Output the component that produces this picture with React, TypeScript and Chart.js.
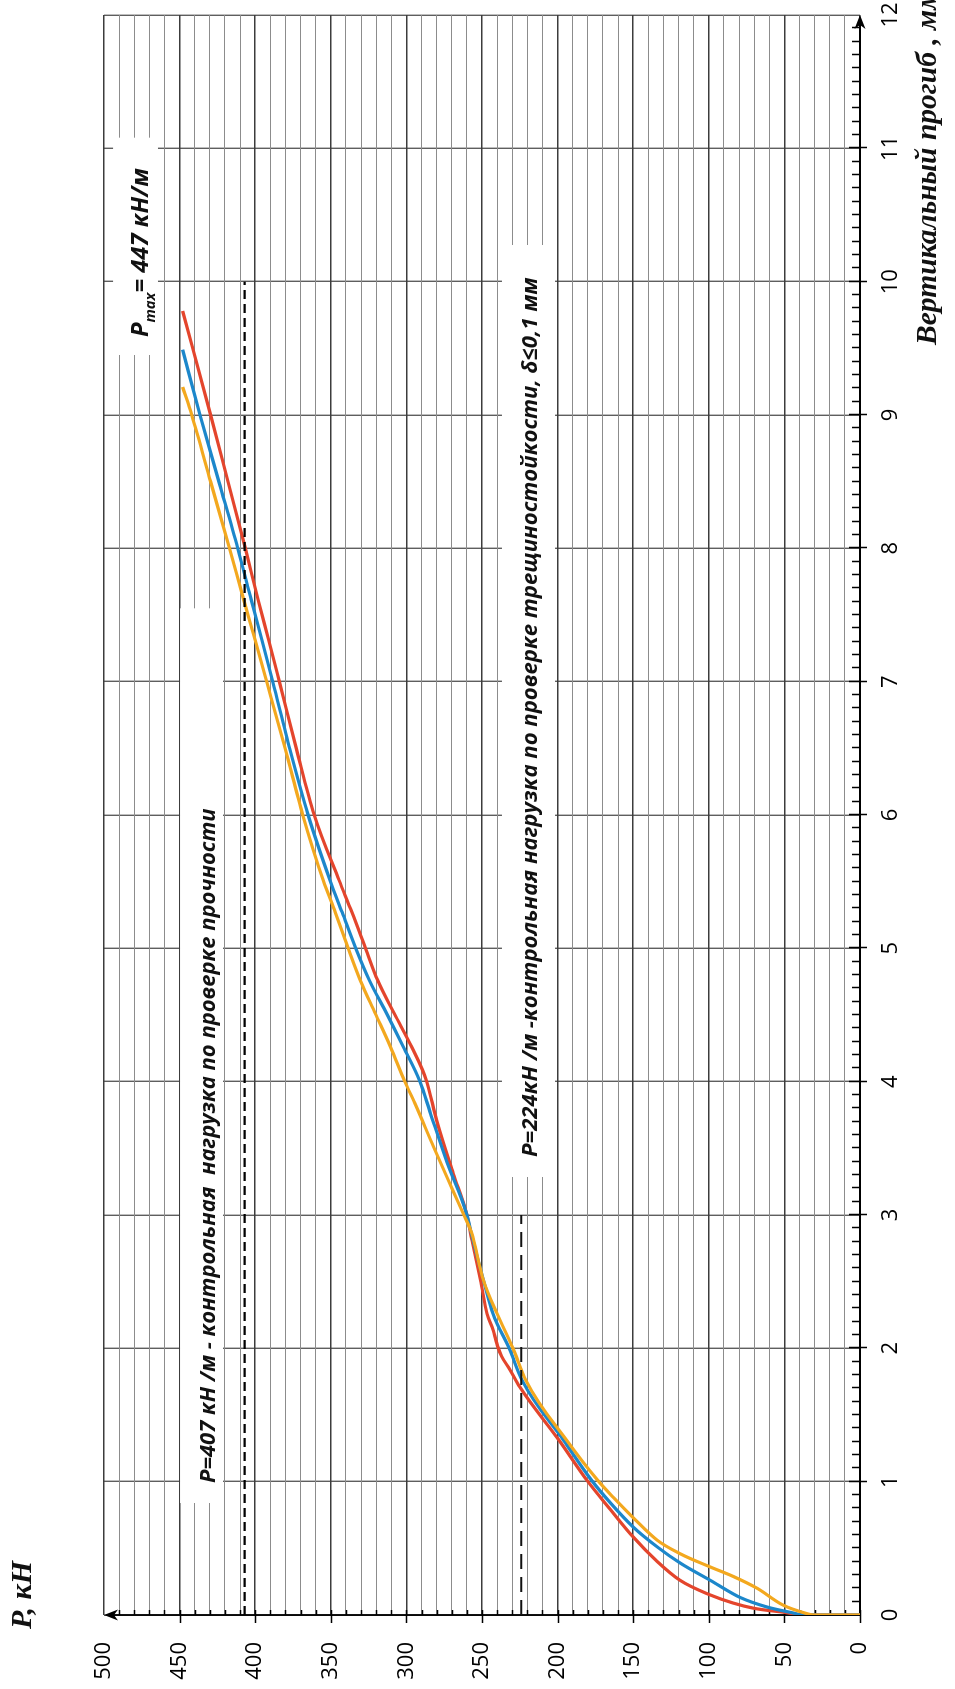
import React, { useEffect, useRef } from 'react';
import { Chart, registerables } from 'chart.js';

Chart.register(...registerables);

// ---- axis ranges / ticks ----
const DEFLECTION_MIN = 0;
const DEFLECTION_MAX = 12;
const DEFLECTION_STEP = 1;
const LOAD_MIN = 0;
const LOAD_MAX = 500;
const LOAD_STEP = 10;
const LOAD_LABEL_STEP = 50;

// ---- series: vertical deflection (mm) vs load P (kN) ----
const redDeflection = [0, 0, 0.02, 0.05, 0.09, 0.15, 0.26, 0.4, 0.585, 0.79, 1.01, 1.31, 1.71, 1.84, 1.94, 2.01, 2.14, 2.26, 2.51, 2.81, 3.0, 3.31, 3.71, 4.0, 4.26, 4.51, 4.76, 5.0, 5.27, 5.51, 6.0, 6.49, 7.0, 7.31, 7.61, 8.0, 8.5, 9.0, 9.78];
const redLoad = [0, 38, 50, 70, 84, 99, 119, 134, 150, 165, 180.6, 199, 225, 231.5, 237, 239.5, 242.7, 246.7, 251, 256.6, 260, 269, 280, 286.5, 296.5, 308, 319, 327, 336, 344.5, 361, 372.6, 384, 391, 398, 406.5, 418, 429.5, 448];

const blueDeflection = [0, 0, 0.015, 0.06, 0.13, 0.26, 0.39, 0.51, 0.66, 0.84, 1.01, 1.31, 1.76, 2.0, 2.26, 2.51, 2.81, 3.0, 3.39, 3.76, 4.0, 4.26, 4.51, 4.76, 5.0, 5.27, 5.51, 6.0, 6.49, 7.0, 7.31, 7.61, 8.0, 8.5, 9.0, 9.49];
const blueLoad = [0, 38, 44, 61.5, 79, 99, 119, 134, 150, 165, 177.5, 196, 223.5, 232, 242.7, 249, 256, 260, 273, 284, 291, 302, 313, 324.5, 333.5, 342.5, 350.5, 365, 377, 388.4, 395.5, 402.5, 411.5, 424, 436.5, 448];

const orangeDeflection = [0, 0, 0.01, 0.075, 0.2, 0.29, 0.36, 0.46, 0.56, 0.73, 0.88, 1.01, 1.31, 1.76, 2.0, 2.26, 2.51, 2.87, 3.0, 3.19, 3.51, 3.84, 4.0, 4.26, 4.51, 4.76, 5.0, 5.27, 5.51, 6.0, 6.49, 7.0, 7.31, 7.61, 8.0, 8.5, 9.0, 9.21];
const orangeLoad = [0, 31, 35, 51, 68, 84, 99, 119, 134, 150, 163, 173.5, 194, 221, 229.5, 240, 249, 257, 262, 269.5, 282, 294.5, 301, 310.5, 320.5, 330.5, 338.5, 347, 355, 368.5, 380, 392.4, 400, 407.5, 417, 429.5, 442, 448];

// ---- control load lines ----
const strengthLoad = 407;
const strengthDeflectionRange = [0, 10];
const crackLoad = 224;
const crackDeflectionRange = [0, 3];

// ---- texts ----
const STRENGTH_TEXT = 'P=407 кН /м - контрольная  нагрузка по проверке прочности';
const CRACK_TEXT = 'P=224кН /м -контрольная нагрузка по проверке трещиностойкости, δ≤0,1 мм';
const PMAX_PARTS = [
  { t: 'P', sub: false },
  { t: 'max', sub: true },
  { t: '= 447 кН/м', sub: false },
];
const LOAD_TITLE = 'P, кН';
const DEFLECTION_TITLE = 'Вертикальный прогиб , мм';

// annotation layout (in data coordinates: d = deflection, p = load)
const ANNOTATIONS = [
  { parts: [{ t: STRENGTH_TEXT, sub: false }], box: [0.84, 7.55, 449.7, 421.3], text: [0.99, 6.05], baseline: 426.6 },
  { parts: [{ t: CRACK_TEXT, sub: false }], box: [3.285, 10.275, 236.8, 201.7], text: [3.435, 10.035], baseline: 213.6 },
  { parts: PMAX_PARTS, box: [9.45, 11.08, 494, 464.3], text: [9.585, 10.85], baseline: 470.9 },
];

const toPoints = (d: number[], p: number[]) => d.map((v, i) => ({ x: v, y: p[i] }));

const ANN_FONT = (s: number) => `italic bold ${s.toFixed(2)}px "Open Sans"`;
const TITLE_FONT = (s: number) => `italic bold ${s.toFixed(2)}px "Liberation Serif"`;

function drawParts(ctx: CanvasRenderingContext2D, parts: { t: string; sub: boolean }[], x: number, width: number, baseline: number) {
  const base = 100;
  const subScale = 0.62;
  let total = 0;
  for (const p of parts) {
    ctx.font = ANN_FONT(p.sub ? base * subScale : base);
    total += ctx.measureText(p.t).width;
  }
  const size = (base * width) / total;
  let cx = x;
  ctx.fillStyle = '#111';
  ctx.textAlign = 'left';
  ctx.textBaseline = 'alphabetic';
  for (const p of parts) {
    const s = p.sub ? size * subScale : size;
    ctx.font = ANN_FONT(s);
    ctx.fillText(p.t, cx, baseline + (p.sub ? size * 0.3 : 0));
    cx += ctx.measureText(p.t).width;
  }
}

const decorPlugin = {
  id: 'decor',
  beforeDatasetsDraw(chart: any) {
    const { ctx, scales } = chart;
    const x = scales.x;
    const y = scales.y;
    ctx.save();
    // white text boxes
    for (const a of ANNOTATIONS) {
      const l = x.getPixelForValue(a.box[0]);
      const r = x.getPixelForValue(a.box[1]);
      const t = y.getPixelForValue(a.box[2]);
      const b = y.getPixelForValue(a.box[3]);
      ctx.fillStyle = '#ffffff';
      ctx.fillRect(l, t, r - l, b - t);
      const sx = x.getPixelForValue(a.text[0]);
      const ex = x.getPixelForValue(a.text[1]);
      drawParts(ctx, a.parts, sx, ex - sx, y.getPixelForValue(a.baseline));
    }

    // axes
    const x0 = x.getPixelForValue(DEFLECTION_MIN);
    const xEnd = x.getPixelForValue(DEFLECTION_MAX);
    const y0 = y.getPixelForValue(LOAD_MIN);
    const yEnd = y.getPixelForValue(LOAD_MAX);
    ctx.strokeStyle = '#000';
    ctx.fillStyle = '#000';
    ctx.lineWidth = 1.8;
    ctx.beginPath();
    ctx.moveTo(x0, y0 + 1);
    ctx.lineTo(x0, yEnd + 6);
    ctx.moveTo(x0 - 1, y0);
    ctx.lineTo(xEnd - 6, y0);
    ctx.stroke();
    // arrow heads
    ctx.beginPath();
    ctx.moveTo(x0, yEnd);
    ctx.lineTo(x0 - 5.5, yEnd + 14);
    ctx.lineTo(x0, yEnd + 10);
    ctx.lineTo(x0 + 5.5, yEnd + 14);
    ctx.closePath();
    ctx.fill();
    ctx.beginPath();
    ctx.moveTo(xEnd, y0);
    ctx.lineTo(xEnd - 14, y0 - 5.5);
    ctx.lineTo(xEnd - 10, y0);
    ctx.lineTo(xEnd - 14, y0 + 5.5);
    ctx.closePath();
    ctx.fill();

    // ticks on load axis
    ctx.lineWidth = 1.5;
    ctx.beginPath();
    for (let v = LOAD_MIN; v < LOAD_MAX; v += LOAD_STEP) {
      const py = Math.round(y.getPixelForValue(v)) + 0.5;
      if (v % LOAD_LABEL_STEP === 0) {
        ctx.moveTo(x0 - 8, py);
        ctx.lineTo(x0 + 5, py);
      } else {
        ctx.moveTo(x0, py);
        ctx.lineTo(x0 + 5, py);
      }
    }
    // ticks on deflection axis (major every 1, minor every 0.1)
    for (let i = 1; i < (DEFLECTION_MAX - DEFLECTION_MIN) * 10; i++) {
      const px = Math.round(x.getPixelForValue(DEFLECTION_MIN + i / 10)) + 0.5;
      if (i % 10 === 0) {
        ctx.moveTo(px, y0 - 11);
        ctx.lineTo(px, y0 + 7);
      } else {
        ctx.moveTo(px, y0 - 8);
        ctx.lineTo(px, y0);
      }
    }
    ctx.stroke();
    ctx.restore();
  },
  afterDraw(chart: any) {
    const { ctx } = chart;
    ctx.save();
    ctx.fillStyle = '#111';
    ctx.textAlign = 'left';
    ctx.textBaseline = 'alphabetic';
    // load title
    ctx.font = TITLE_FONT(100);
    const w1 = ctx.measureText(LOAD_TITLE).width;
    ctx.font = TITLE_FONT((100 * 68) / w1);
    ctx.fillText(LOAD_TITLE, 60, 31);
    // deflection title
    ctx.font = TITLE_FONT(100);
    const w2 = ctx.measureText('Вертикальный прогиб').width;
    ctx.font = TITLE_FONT((100 * 293) / w2);
    ctx.fillText(DEFLECTION_TITLE, 1344, 936);
    ctx.restore();
  },
};

export default function App() {
  const ref = useRef<HTMLCanvasElement>(null);
  useEffect(() => {
    const canvas = ref.current;
    if (!canvas) return;
    const lineBase = {
      pointRadius: 0,
      pointHoverRadius: 0,
      fill: false,
      borderWidth: 3.2,
      cubicInterpolationMode: 'monotone' as const,
    };
    const chart = new Chart(canvas, {
      type: 'line',
      data: {
        datasets: [
          {
            label: 'P=407',
            data: strengthDeflectionRange.map((d) => ({ x: d, y: strengthLoad })),
            borderColor: '#000',
            borderWidth: 2.4,
            borderDash: [9, 5],
            pointRadius: 0,
            tension: 0,
            fill: false,
          },
          {
            label: 'P=224',
            data: crackDeflectionRange.map((d) => ({ x: d, y: crackLoad })),
            borderColor: '#111',
            borderWidth: 1.9,
            borderDash: [15, 8],
            pointRadius: 0,
            tension: 0,
            fill: false,
          },
          { ...lineBase, label: 'orange', data: toPoints(orangeDeflection, orangeLoad), borderColor: '#F3A81E' },
          { ...lineBase, label: 'blue', data: toPoints(blueDeflection, blueLoad), borderColor: '#1C87CB' },
          { ...lineBase, label: 'red', data: toPoints(redDeflection, redLoad), borderColor: '#E4452C' },
        ],
      },
      options: {
        indexAxis: 'y',
        responsive: false,
        maintainAspectRatio: false,
        animation: false,
        devicePixelRatio: 1,
        layout: { padding: { left: 0, right: 15, top: 104, bottom: 0 }, autoPadding: false },
        plugins: { legend: { display: false }, tooltip: { enabled: false } },
        events: [],
        scales: {
          x: {
            type: 'linear',
            position: 'bottom',
            min: DEFLECTION_MIN,
            max: DEFLECTION_MAX,
            afterFit: (s: any) => {
              s.height = 95;
              s.paddingLeft = 0;
              s.paddingRight = 0;
            },
            ticks: {
              stepSize: DEFLECTION_STEP,
              maxTicksLimit: 100,
              autoSkip: false,
              maxRotation: 0,
              padding: 18,
              color: '#000',
              font: { family: 'Open Sans', size: 22 },
            },
            grid: { color: '#5e5e5e', lineWidth: 1.4, drawTicks: false },
            border: { display: false },
          },
          y: {
            type: 'linear',
            position: 'left',
            min: LOAD_MIN,
            max: LOAD_MAX,
            afterFit: (s: any) => {
              s.width = 74;
              s.paddingTop = 0;
              s.paddingBottom = 0;
            },
            ticks: {
              stepSize: LOAD_STEP,
              maxTicksLimit: 100,
              autoSkip: false,
              padding: 27,
              color: '#000',
              font: { family: 'Open Sans', size: 22 },
              callback: (v: any) => (Number(v) % LOAD_LABEL_STEP === 0 ? String(v) : ''),
            },
            grid: {
              drawTicks: false,
              color: (c: any) => (c.tick && c.tick.value % LOAD_LABEL_STEP === 0 ? '#3c3c3c' : '#8c8c8c'),
              lineWidth: (c: any) => (c.tick && c.tick.value % LOAD_LABEL_STEP === 0 ? 1.5 : 1),
            },
            border: { display: false },
          },
        },
      } as any,
      plugins: [decorPlugin],
    });
    return () => chart.destroy();
  }, []);

  return (
    <div
      style={{
        position: 'absolute',
        left: 0,
        top: 0,
        width: 955,
        height: 1689,
        overflow: 'hidden',
        background: '#fff',
      }}
    >
      <div
        style={{
          position: 'absolute',
          left: 0,
          top: 0,
          width: 1689,
          height: 955,
          transformOrigin: '0 0',
          transform: 'translate(0px, 1689px) rotate(-90deg)',
        }}
      >
        <canvas ref={ref} width={1689} height={955} style={{ display: 'block', width: 1689, height: 955 }} />
      </div>
    </div>
  );
}
